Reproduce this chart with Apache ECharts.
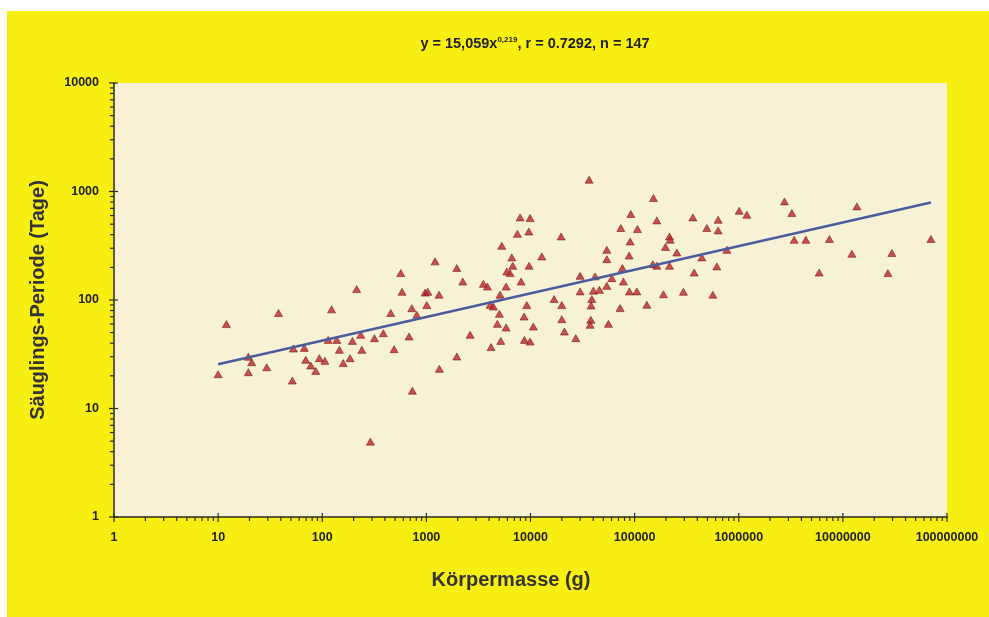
<!DOCTYPE html>
<html><head><meta charset="utf-8">
<script src="https://cdn.jsdelivr.net/npm/echarts@6/dist/echarts.min.js"></script>
<style>
html,body{margin:0;padding:0;background:#fff;}
#bg{position:absolute;left:7px;top:11px;width:982px;height:606px;background:#f7ef12;}
#chart{position:absolute;left:0;top:0;width:989px;height:617px;}
</style></head><body>
<div id="bg"></div><div id="chart"></div>
<script>
// Körpermasse (g)
const massG = [12,38,123,214,568,584,455,724,809,10,19.5,21,19.5,29.3,51.6,52.8,67.3,69.4,77.5,86.6,93.8,106,114,138,146,159,185,195,240,234,317,386,490,682,734,290,
36550,7943,9910,7482,9631,5300,6610,12840,6760,9696,5922,6368,1212,1959,2237,3528,3855,5830,8123,972,1032,1324,1009,5105,4092,4401,5027,9215,8680,16850,4808,5830,10660,8740,9910,5184,2630,4183,1959,1333,
19680,19980,19980,21170,27230,29960,29960,41750,40190,45920,38810,38200,37950,37370,
151600,91930,163400,73700,106400,362500,634000,493800,634000,1009000,1196000,90560,216000,219300,197700,254300,54080,54080,88530,442100,768800,76350,149600,163400,216000,616000,372900,60390,78060,54080,89150,105000,189100,294300,563800,131000,72570,56020,
2748000,3236000,13630000,3405000,4413000,7434000,70030000,12200000,29560000,5920000,27060000];
// Säuglings-Periode (Tage)
const periodDays = [60,76,82,126,177,119,76,84,73,20.7,30,26.7,21.6,24,18.1,35.7,36.2,28.1,24.9,22.2,29.1,27.5,42.9,42.9,34.7,26.2,29.1,42,34.7,47.8,44.5,49.5,35.2,46.1,14.6,4.95,
1285,577,569,408,428,316,247,252,207,207,183,177,227,197,148,141,133,133,148,117,119,112,89.7,112,90.3,87.1,74.6,89.7,70.4,102,60.3,55.8,56.9,42.9,41.4,42,47.8,36.8,30.1,23.2,
385,89.7,66.6,51.2,44.5,167,120,165,122,124,102,89,65.7,59.1,
871,620,541,461,451,577,549,461,438,665,611,346,385,359,308,274,290,238,257,247,290,197,214,207,207,204,179,159,148,135,120,120,113,119,112,90.3,84.2,60.3,
810,633,729,359,359,365,365,267,271,179,177];
// Trendline end points
const trendMass = [10, 7.0e7];
const trendDays = [25.6, 793];
const xTickLabels = ['1','10','100','1000','10000','100000','1000000','10000000','100000000'];
const yTickLabels = ['1','10','100','1000','10000'];
const titleText = 'y = 15,059x{sup|0,219}, r = 0.7292, n = 147';
const xName = 'Körpermasse (g)';
const yName = 'Säuglings-Periode (Tage)';

const points = massG.map((m, i) => [m, periodDays[i]]);
const trend = trendMass.map((m, i) => [m, trendDays[i]]);

// tick marks (major crossing, minor outside)
const ticks = [];
xTickLabels.forEach((t, d) => {
  const v = Math.pow(10, d);
  ticks.push([v, 1, 0]);
  if (d < xTickLabels.length - 1) for (let k = 2; k <= 9; k++) ticks.push([k * v, 1, 1]);
});
yTickLabels.forEach((t, d) => {
  const v = Math.pow(10, d);
  ticks.push([1, v, 2]);
  if (d < yTickLabels.length - 1) for (let k = 2; k <= 9; k++) ticks.push([1, k * v, 3]);
});

const chart = echarts.init(document.getElementById('chart'), null, {renderer: 'canvas'});
const axisColor = '#2b2b1e';
const font = '"Liberation Sans", Arial, sans-serif';
chart.setOption({
  backgroundColor: 'transparent',
  animation: false,
  title: {
    text: titleText,
    left: 530, top: 31, textAlign: 'center',
    textStyle: {fontFamily: font, fontWeight: 'bold', fontSize: 14.5, color: '#222',
      rich: {sup: {fontFamily: font, fontWeight: 'bold', fontSize: 8, color: '#222', padding: [0, 0, 8, 0]}}}
  },
  grid: {left: 114, right: 42, top: 83, bottom: 100, show: true, backgroundColor: '#f7f2d5', borderWidth: 0},
  xAxis: {
    type: 'log', logBase: 10, min: 1, max: 1e8, splitNumber: 10,
    axisLine: {show: true, onZero: false, lineStyle: {color: axisColor, width: 1.5}},
    axisTick: {show: false}, splitLine: {show: false},
    axisLabel: {margin: 14, fontFamily: font, fontWeight: 'bold', fontSize: 12.5, color: '#222',
      formatter: v => xTickLabels[Math.round(Math.log10(v))]}
  },
  yAxis: {
    type: 'log', logBase: 10, min: 1, max: 10000, splitNumber: 10,
    name: yName, nameLocation: 'middle', nameGap: 66, nameRotate: 90,
    nameTextStyle: {fontFamily: font, fontWeight: 'bold', fontSize: 20, color: '#333'},
    axisLine: {show: true, onZero: false, lineStyle: {color: axisColor, width: 1.5}},
    axisTick: {show: false}, splitLine: {show: false},
    axisLabel: {margin: 15, fontFamily: font, fontWeight: 'bold', fontSize: 12.5, color: '#222',
      formatter: v => yTickLabels[Math.round(Math.log10(v))]}
  },
  graphic: [{
    type: 'text', x: 511, y: 580,
    style: {text: xName, font: 'bold 20px "Liberation Sans", Arial, sans-serif', fill: '#333', align: 'center', verticalAlign: 'middle'}
  }],
  series: [
    {
      type: 'scatter', data: points, symbol: 'triangle', symbolSize: [8, 7],
      itemStyle: {color: '#bf2429', borderColor: '#6a1818', borderWidth: 0.7}, z: 3
    },
    {
      type: 'line', data: trend, showSymbol: false, symbol: 'none',
      lineStyle: {color: '#4a5c9e', width: 2.5}, z: 4
    },
    {
      type: 'custom', data: ticks, clip: false, z: 5, silent: true,
      renderItem: (params, api) => {
        const kind = api.value(2);
        const p = api.coord([api.value(0), api.value(1)]);
        let s;
        if (kind === 0) s = [p[0], p[1] - 4, p[0], p[1] + 5];
        else if (kind === 1) s = [p[0], p[1], p[0], p[1] + 4];
        else if (kind === 2) s = [p[0] - 5, p[1], p[0] + 4, p[1]];
        else s = [p[0] - 4, p[1], p[0], p[1]];
        return {type: 'line', shape: {x1: s[0], y1: s[1], x2: s[2], y2: s[3]},
          style: {stroke: axisColor, lineWidth: 1.2}};
      }
    }
  ]
});
</script>
</body></html>
